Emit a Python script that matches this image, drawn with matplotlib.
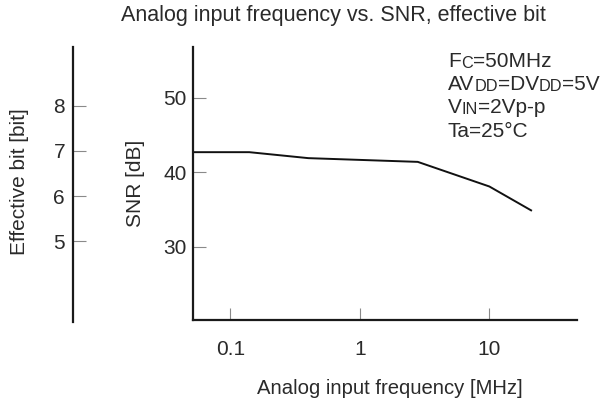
import matplotlib.pyplot as plt

plt.rcParams['font.family'] = ['Liberation Sans', 'DejaVu Sans']

# SNR vs analog input frequency
freq_mhz = [0.05, 0.14, 0.4, 2.8, 10, 21]
snr_db = [42.7, 42.7, 41.9, 41.4, 38.1, 34.9]

snr_ticks = [30, 40, 50]
freq_ticks = [0.1, 1, 10]
freq_ticklabels = ['0.1', '1', '10']
bit_ticks = [5, 6, 7, 8]

# conditions block: (text, small) pieces per line
conditions = [
    [('F', False), ('C', True), ('=50MHz', False)],
    [('AV', False), ('DD', True), ('=DV', False), ('DD', True), ('=5V', False)],
    [('V', False), ('IN', True), ('=2Vp-p', False)],
    [('Ta=25°C', False)],
]

W, H = 604, 401
txt = '#2a2a2a'
fs = 15

fig = plt.figure(figsize=(W / 100, H / 100), dpi=100)

def fx(px):
    return px / W

def fy(py):
    return 1 - py / H

# main SNR axes
ax = fig.add_axes([fx(193), fy(320), fx(577 - 193), (320 - 47) / H])
ax.plot(freq_mhz, snr_db, color='#111111', lw=1.4)
ax.set_xscale('log')
ax.set_xlim(0.0515, 47.5)
ax.set_ylim(20.2, 56.8)
ax.set_xticks(freq_ticks)
ax.set_xticklabels(freq_ticklabels)
ax.xaxis.set_minor_locator(plt.NullLocator())
ax.set_yticks(snr_ticks)
for s in ['top', 'right']:
    ax.spines[s].set_visible(False)
for s in ['left', 'bottom']:
    ax.spines[s].set_linewidth(1.6)
    ax.spines[s].set_color('#1a1a1a')
ax.tick_params(axis='x', direction='in', length=9, width=0.8, color='#8a8a8a',
               pad=14.5, labelsize=fs, labelcolor=txt)
ax.tick_params(axis='y', direction='in', length=9.5, width=0.8, color='#8a8a8a',
               pad=4.5, labelsize=fs, labelcolor=txt)

# effective bit axis on the far left
bx = fig.add_axes([fx(72.7), fy(321.7), 0.001, (321.7 - 47) / H])
bx.set_ylim(3.22, 9.30)
bx.set_yticks(bit_ticks)
bx.set_xticks([])
for s in ['top', 'right', 'bottom']:
    bx.spines[s].set_visible(False)
bx.spines['left'].set_linewidth(1.6)
bx.spines['left'].set_color('#1a1a1a')
bx.tick_params(axis='y', direction='in', length=9.5, width=0.8, color='#8a8a8a',
               pad=5.5, labelsize=fs, labelcolor=txt)

# titles and axis labels
fig.text(fx(333.7), fy(20.7), 'Analog input frequency vs. SNR, effective bit',
         ha='center', va='baseline', fontsize=15.5, color=txt)
fig.text(fx(390), fy(394), 'Analog input frequency [MHz]',
         ha='center', va='baseline', fontsize=14.6, color=txt)
fig.text(fx(135.5), fy(183), 'SNR [dB]', rotation=90,
         ha='center', va='center', fontsize=fs, color=txt)
fig.text(fx(20), fy(182), 'Effective bit [bit]', rotation=90,
         ha='center', va='center', fontsize=fs, color=txt)

# measurement conditions, subscripts drawn as smaller capitals
baselines = [67.3, 90, 113, 136.7]
for line, by in zip(conditions, baselines):
    last = None
    for s, small in line:
        size = fs * 0.78 if small else fs
        if last is None:
            last = fig.text(fx(448), fy(by), s, ha='left', va='baseline',
                            fontsize=size, color=txt)
        else:
            last = ax.annotate(s, xy=(1, 0), xycoords=last, ha='left',
                               va='bottom', fontsize=size, color=txt,
                               annotation_clip=False)

fig.savefig('out.png', dpi=100)
